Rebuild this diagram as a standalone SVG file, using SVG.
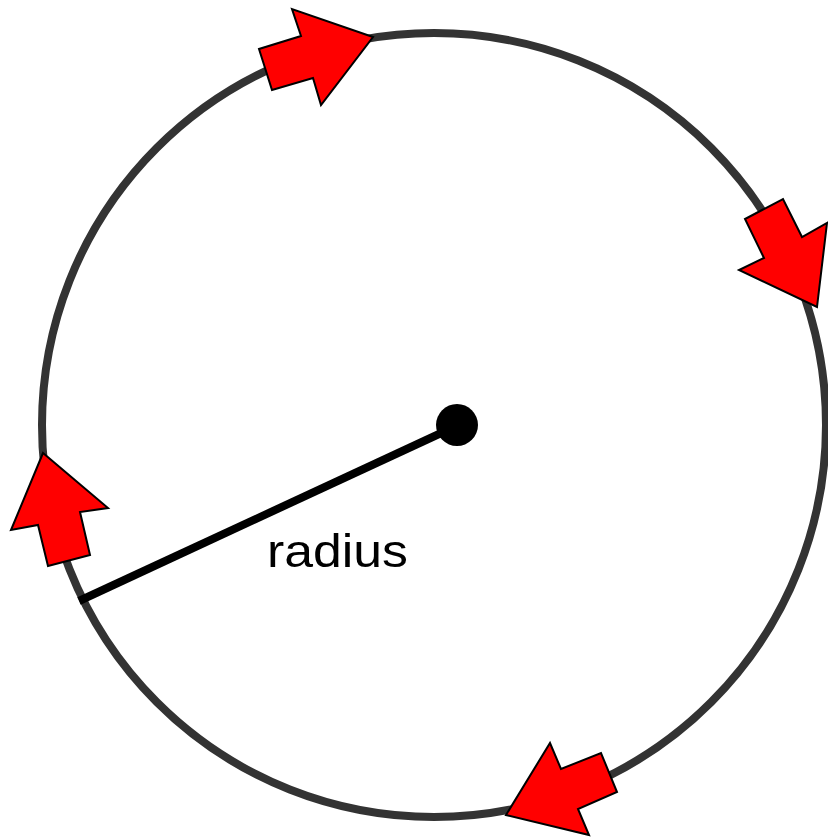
<svg xmlns="http://www.w3.org/2000/svg" width="828" height="838" viewBox="0 0 828 838">
<style>
.arrow{fill:#ff0000;stroke:#000;stroke-width:2;stroke-linejoin:miter}
.label{font-family:"Liberation Sans",Arial,sans-serif;font-size:47px;fill:#000}
</style>
<rect width="828" height="838" fill="#fff"/>
<g id="circle">
<circle cx="434" cy="425" r="392" fill="none" stroke="#333" stroke-width="8"/>
</g>
<g id="connectors">
<line x1="79" y1="601" x2="452" y2="428" stroke="#000" stroke-width="8"/>
</g>
<g id="center">
<circle cx="457" cy="425" r="21" fill="#000"/>
</g>
<g id="label">
<text class="label" x="267" y="567" textLength="141" lengthAdjust="spacingAndGlyphs">radius</text>
</g>
<g id="arrow-top">
<polygon class="arrow" points="373,37 292,9 301,36 259,49 272,90 313,78 321,105"/>
</g>
<g id="arrow-right">
<polygon class="arrow" points="817,307 827,223 802,237 783,199 745,219 764,258 739,270"/>
</g>
<g id="arrow-left">
<polygon class="arrow" points="43,453 108,508 80,512 90,555 48,566 38,525 11,530"/>
</g>
<g id="arrow-bottom">
<polygon class="arrow" points="506,815 550,743 561,769 601,753 617,792 578,809 589,835"/>
</g>
</svg>
